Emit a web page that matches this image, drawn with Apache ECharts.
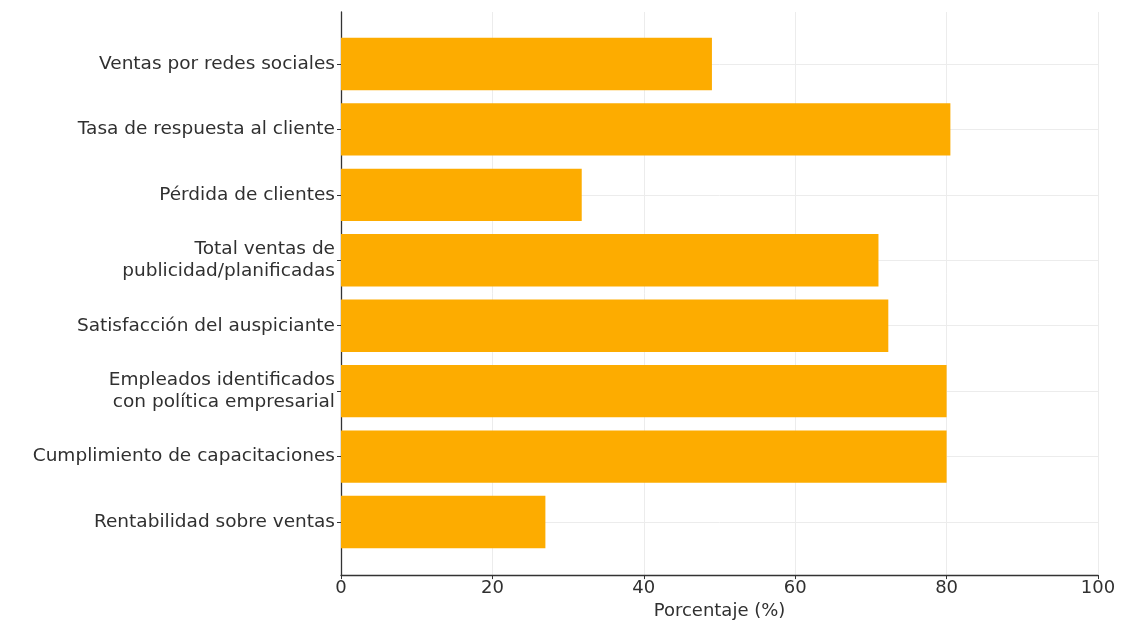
<!DOCTYPE html>
<html>
<head>
<meta charset="utf-8">
<script src="https://cdn.jsdelivr.net/npm/echarts@6/dist/echarts.min.js"></script>
<style>html,body{margin:0;padding:0;background:#fff;}#c{width:1140px;height:625px;}</style>
</head>
<body>
<div id="c"></div>
<script>
const categories = [
  'Ventas por redes sociales',
  'Tasa de respuesta al cliente',
  'Pérdida de clientes',
  'Total ventas de\npublicidad/planificadas',
  'Satisfacción del auspiciante',
  'Empleados identificados\ncon política empresarial',
  'Cumplimiento de capacitaciones',
  'Rentabilidad sobre ventas'
];
const values = [49, 80.5, 31.8, 71, 72.3, 80, 80, 27];
const xTicks = [0, 20, 40, 60, 80, 100];
const xName = 'Porcentaje (%)';

const font = '"DejaVu Sans", sans-serif';
const txt = '#303030';
const fs = 18;
const chart = echarts.init(document.getElementById('c'));
chart.setOption({
  animation: false,
  backgroundColor: '#ffffff',
  grid: [
    {left: 341, right: 42, top: 12, bottom: 49},
    {left: 341, right: 42, top: 64, bottom: 103}
  ],
  xAxis: [
    {
      gridIndex: 0, type: 'value', min: xTicks[0], max: xTicks[xTicks.length - 1], interval: 20,
      name: xName, nameLocation: 'middle', nameGap: 26,
      nameTextStyle: {fontFamily: font, fontSize: fs, color: txt},
      axisLine: {show: true, lineStyle: {color: '#333', width: 1.3}},
      axisTick: {show: true, length: 4, lineStyle: {color: '#333'}},
      axisLabel: {fontFamily: font, fontSize: fs, color: txt, margin: 4},
      splitLine: {show: true, lineStyle: {color: '#ececec', width: 1}}
    },
    {gridIndex: 1, type: 'value', min: 0, max: 100, show: false}
  ],
  yAxis: [
    {
      gridIndex: 0, type: 'value', min: 0, max: 1,
      axisLine: {show: true, lineStyle: {color: '#333', width: 1.3}},
      axisTick: {show: false}, axisLabel: {show: false}, splitLine: {show: false}
    },
    {
      gridIndex: 1, type: 'category', data: categories, inverse: true, boundaryGap: false,
      axisLine: {show: false},
      axisTick: {show: true, length: 4, lineStyle: {color: '#333'}},
      axisLabel: {fontFamily: font, fontSize: 18.5, color: txt, margin: 6, align: 'right', lineHeight: 22},
      splitLine: {show: true, lineStyle: {color: '#ececec', width: 1}}
    }
  ],
  series: [{
    type: 'bar', xAxisIndex: 1, yAxisIndex: 1, data: values, barWidth: '80%', clip: false,
    itemStyle: {color: '#FDAC00'}
  }]
});
</script>
</body>
</html>
